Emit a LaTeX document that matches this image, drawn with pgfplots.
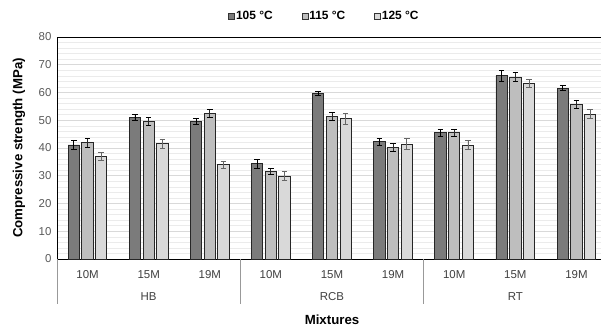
\documentclass[border=0pt]{standalone}
\usepackage{pgfplots}
\pgfplotsset{compat=1.18}
\usepackage{fontspec}
\setmainfont{Liberation Sans}
\definecolor{cA}{HTML}{7B7B7B}
\definecolor{cB}{HTML}{BEBEBE}
\definecolor{cC}{HTML}{D9D9D9}
\definecolor{tickc}{HTML}{595959}
\definecolor{gmaj}{HTML}{D9D9D9}
\definecolor{gmin}{HTML}{EBEBEB}
\begin{document}
\begin{tikzpicture}
\path[use as bounding box, clip] (-57bp,-72bp) rectangle (544bp,259bp);
\begin{axis}[
  scale only axis,
  clip=false,
  width=550bp, height=222bp,
  xmin=-0.5, xmax=8.5,
  ymin=0, ymax=80,
  ytick={0,10,...,80},
  minor y tick num=4,
  ymajorgrids, yminorgrids,
  major grid style={gmaj, line width=0.8pt},
  minor grid style={gmin, line width=0.6pt},
  ytick style={draw=none},
  minor y tick style={draw=none},
  xtick={0,...,8},
  xticklabels={10M,15M,19M,10M,15M,19M,10M,15M,19M},
  xtick style={draw=none},
  tick pos=left,
  axis line style={black, line width=0.8pt},
  ticklabel style={font=\fontsize{11.5}{13}\selectfont, text=tickc},
  y tick label style={xshift=-2bp},
  x tick label style={yshift=-4bp, text=black!75},
  /pgf/number format/assume math mode=true,
  ylabel={\bfseries Compressive strength (MPa)},
  ylabel style={font=\fontsize{13.3}{15}\selectfont, at={(axis description cs:-0.069,0.5)}, anchor=center, rotate=0},
  xlabel={\bfseries Mixtures},
  xlabel style={font=\fontsize{13.3}{15}\selectfont, at={(axis description cs:0.5,0)}, anchor=center, yshift=-61bp},
  ybar=2.4bp, bar width=11.3bp,
  every axis plot/.append style={draw=black!85, line width=0.9pt},
  error bars/y dir=both, error bars/y explicit,
  error bars/error bar style={line width=0.8pt},
  error bars/error mark options={rotate=90, mark size=2.8bp, line width=0.8pt},
  legend columns=3,
  legend style={at={(axis description cs:0.5,1)}, anchor=center, yshift=21bp, xshift=-8bp, draw=none, fill=none,
    font=\bfseries\fontsize{12}{14}\selectfont, /tikz/every even column/.append style={column sep=28bp},
    nodes={inner xsep=1bp}},
  legend image code/.code={\draw[#1, line width=0.6pt, draw=black!80] (0bp,-3bp) rectangle (6bp,3bp);},
]
\addplot[fill=cA, error bars/error bar style={black}] coordinates {
(0,41.1) +- (0,1.5) (1,51.0) +- (0,1.2) (2,49.5) +- (0,1.0)
(3,34.3) +- (0,1.5) (4,59.7) +- (0,0.8) (5,42.3) +- (0,1.3)
(6,45.5) +- (0,1.3) (7,66.1) +- (0,2.0) (8,61.6) +- (0,1.0)};
\addplot[fill=cB] coordinates {
(0,41.9) +- (0,1.7) (1,49.6) +- (0,1.5) (2,52.6) +- (0,1.4)
(3,31.6) +- (0,1.2) (4,51.3) +- (0,1.4) (5,40.1) +- (0,1.5)
(6,45.5) +- (0,1.2) (7,65.6) +- (0,1.6) (8,55.8) +- (0,1.5)};
\addplot[fill=cC, error bars/error bar style={black!60}] coordinates {
(0,37.1) +- (0,1.4) (1,41.5) +- (0,1.6) (2,33.9) +- (0,1.2)
(3,29.9) +- (0,1.5) (4,50.5) +- (0,2.0) (5,41.4) +- (0,2.0)
(6,41.0) +- (0,1.6) (7,63.3) +- (0,1.3) (8,52.2) +- (0,1.6)};
\legend{105 °C,115 °C,125 °C}
\draw[black!40, line width=0.8pt] (axis cs:-0.5,0) -- ++(0pt,-45bp);
\draw[black!40, line width=0.8pt] (axis cs:2.5,0) -- ++(0pt,-45bp);
\draw[black!40, line width=0.8pt] (axis cs:5.5,0) -- ++(0pt,-45bp);
\node[font=\fontsize{11.5}{13}\selectfont, text=black!75] at ([yshift=-38bp]axis cs:1,0) {HB};
\node[font=\fontsize{11.5}{13}\selectfont, text=black!75] at ([yshift=-38bp]axis cs:4,0) {RCB};
\node[font=\fontsize{11.5}{13}\selectfont, text=black!75] at ([yshift=-38bp]axis cs:7,0) {RT};
\end{axis}
\end{tikzpicture}
\end{document}
